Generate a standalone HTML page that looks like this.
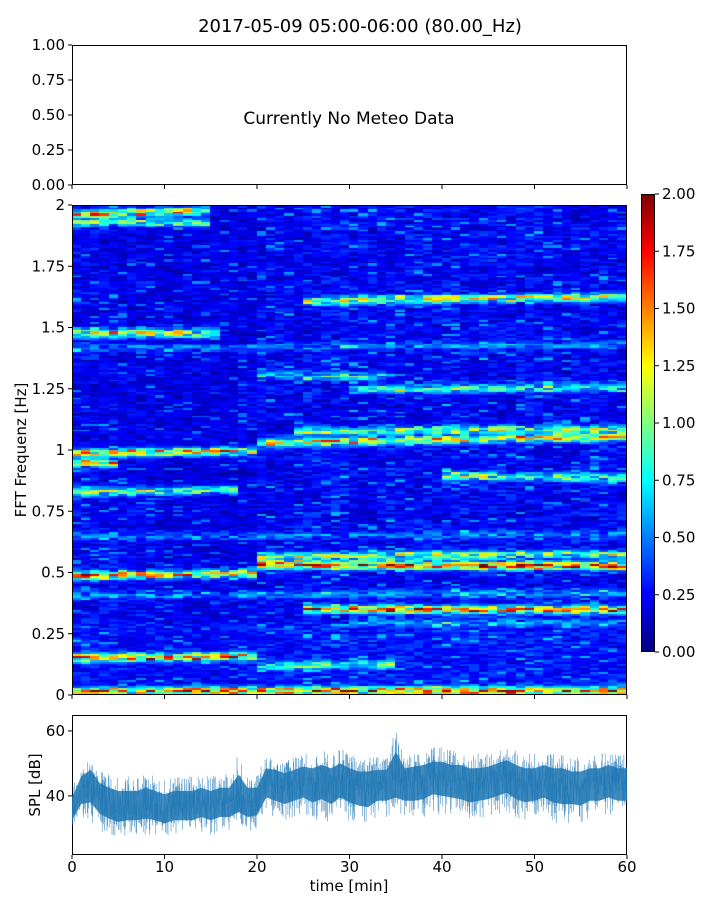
<!DOCTYPE html>
<html><head><meta charset="utf-8"><style>
body{margin:0;background:#fff;width:720px;height:900px;overflow:hidden;font-family:"DejaVu Sans","Liberation Sans",sans-serif;}
#root{position:relative;width:720px;height:900px;}
</style></head><body><div id="root">
<canvas id="spec" width="555" height="490" style="position:absolute;left:72px;top:205px"></canvas>
<canvas id="cbar" width="14" height="458" style="position:absolute;left:641px;top:194px"></canvas>
<svg id="svg" width="720" height="900" style="position:absolute;left:0;top:0" font-family="DejaVu Sans, Liberation Sans, sans-serif"></svg>
</div>
<script>
// ---- data ----
const xTicks=[0,10,20,30,40,50,60];
const meteoTicks=[0,0.25,0.5,0.75,1.0];
const freqTicks=[0,0.25,0.5,0.75,1,1.25,1.5,1.75,2];
const freqTickLabels=["0","0.25","0.5","0.75","1","1.25","1.5","1.75","2"];
const cbTicks=[0,0.25,0.5,0.75,1,1.25,1.5,1.75,2];
const splTicks=[40,60];
// background level per 5-minute block (colour value)
const bgLevel=[0.3,0.28,0.26,0.26,0.3,0.33,0.31,0.31,0.33,0.32,0.31,0.31,0.31];
// spectral lines: freq start, freq end, t start, t end, amplitude
const lineF0=[0.99,0.95,1.03,1.08,0.49,0.535,0.57,0.355,0.155,0.02,0.83,0.9,1.48,1.61,1.96,1.93,1.25,1.31,0.41,0.65,1.42,0.12,0.3];
const lineF1=[1.0,0.95,1.06,1.09,0.5,0.53,0.58,0.35,0.16,0.02,0.84,0.89,1.48,1.63,1.98,1.93,1.26,1.3,0.42,0.66,1.43,0.13,0.3];
const lineT0=[0,0,20,24,0,20,20,25,0,0,0,40,0,25,0,0,30,20,0,0,0,20,30];
const lineT1=[20,5,60,60,20,60,60,60,20,60,18,60,16,60,15,15,60,35,60,60,60,35,60];
const lineA=[1.3,1.2,1.2,0.9,1.3,1.6,0.9,1.4,1.5,1.4,0.8,0.9,1.0,1.0,1.2,0.8,0.7,0.6,0.35,0.3,0.3,0.7,0.35];
// SPL envelope per minute
const splMean=[35,42,44,40,38,37,37,37,38,37,36,37,37,37,38,37,38,38,40,38,38,45,44,43,44,45,44,45,44,45,44,43,43,44,44,45,44,45,45,46,46,45,45,44,44,45,46,47,45,44,44,45,44,44,43,43,44,44,45,44,44];
const splHi=[44,50,52,48,47,46,46,46,47,46,45,46,46,46,47,46,47,47,53,47,47,52,52,51,52,53,53,54,53,55,53,52,52,52,52,62,53,53,54,55,55,54,54,53,53,53,54,55,54,53,53,54,53,53,52,52,53,53,54,53,53];
const splLo=[30,33,32,29,28,27,28,28,28,28,27,28,28,28,29,28,29,29,30,29,30,34,33,32,33,34,32,33,31,34,32,31,30,33,33,34,33,32,33,35,34,34,33,32,33,33,34,35,33,32,33,34,32,31,32,31,33,33,34,33,33];

// ---- helpers ----
function jet(v){v=Math.max(0,Math.min(1,v));
 const r=Math.max(0,Math.min(1,1.5-Math.abs(4*v-3))),g=Math.max(0,Math.min(1,1.5-Math.abs(4*v-2))),b=Math.max(0,Math.min(1,1.5-Math.abs(4*v-1)));
 return `rgb(${Math.round(r*255)},${Math.round(g*255)},${Math.round(b*255)})`;}
function hash(i,j){let h=(i*374761393+j*668265263)|0;h=(h^(h>>>13))*1274126177|0;return ((h^(h>>>16))>>>0)/4294967296;}
const X0=72,X1=627;
const xs=t=>X0+(X1-X0)*t/60;
const fy=f=>695-490*f/2;
const svg=document.getElementById('svg');
const NS='http://www.w3.org/2000/svg';
function el(tag,attrs,parent){const e=document.createElementNS(NS,tag);for(const k in attrs)e.setAttribute(k,attrs[k]);(parent||svg).appendChild(e);return e;}
function txt(x,y,s,size,anchor,name){const t=el('text',{x:x,y:y,'font-size':size,'text-anchor':anchor||'middle',fill:'#000'});t.textContent=s;


return t;}

// ---- spectrogram ----
const cv=document.getElementById('spec'),cx=cv.getContext('2d');
const nT=60,nF=245;
for(let i=0;i<nT;i++){const t=i+0.5;const bi=Math.min(12,Math.floor(t/5));const bg=bgLevel[bi];
 for(let j=0;j<nF;j++){const f=(j+0.5)*2/nF;
  const patch=hash(Math.floor(i/3),Math.floor(j/6)+500);
  const hv=hash(i,j);
  let v=bg*(0.25+0.8*hv+0.5*patch*hash(j+3,i+7)+(hv>0.95?0.6:0))+(f<0.3?0.05:0);
  for(let k=0;k<lineF0.length;k++){if(t<lineT0[k]||t>lineT1[k])continue;
   const fc=lineF0[k]+(lineF1[k]-lineF0[k])*(t-lineT0[k])/Math.max(1,lineT1[k]-lineT0[k]);
   const d=Math.abs(f-fc)/0.016; if(d<2.5){v+=lineA[k]*Math.exp(-d*d)*(0.3+1.0*hash(i+3,j+11));}}
  cx.fillStyle=jet(v/2);cx.fillRect(Math.floor(xs(i)-X0),Math.floor(fy(f+1/nF)-205),Math.ceil(555/nT)+1,3);}}
// colorbar
const cb=document.getElementById('cbar').getContext('2d');
for(let y=0;y<458;y++){cb.fillStyle=jet(1-y/457);cb.fillRect(0,y,14,1);}

// ---- axes frames ----
const g=el('g',{});

const frames=[[72,45,555,140,'meteo-axes'],[72,205,555,490,'spectrogram-axes'],[72,715,555,140,'spl-axes'],[641,194,14,458,'colorbar-frame']];
frames.forEach(f=>{const r=el('rect',{x:f[0]+.5,y:f[1]+.5,width:f[2]-1,height:f[3]-1,fill:'none',stroke:'#000','stroke-width':1},g);
 
 });

txt(360,32,'2017-05-09 05:00-06:00 (80.00_Hz)',18,'middle','chart-title');
txt(349,124,'Currently No Meteo Data',17,'middle','no-data-message');
meteoTicks.forEach(v=>{const y=185-140*v;el('line',{x1:68,x2:72,y1:y,y2:y,stroke:'#000'});
 txt(65,y+5,v.toFixed(2),15,'end','meteo-y-tick-label');});
xTicks.forEach(v=>{const x=xs(v);[185,695,855].forEach(yb=>el('line',{x1:x,x2:x,y1:yb,y2:yb+4,stroke:'#000'}));
 txt(x,872,String(v),15,'middle','x-tick-label');});
freqTicks.forEach((v,i)=>{const y=fy(v);el('line',{x1:68,x2:72,y1:y,y2:y,stroke:'#000'});
 txt(65,y+5,freqTickLabels[i],15,'end','freq-tick-label');});
const yl=txt(26,450,'FFT Frequenz [Hz]',15,'middle','y-axis-title');yl.setAttribute('transform','rotate(-90 26 450)');
cbTicks.forEach(v=>{const y=652-458*v/2;el('line',{x1:655,x2:659,y1:y,y2:y,stroke:'#000'});
 txt(662,y+5,v.toFixed(2),15,'start','colorbar-tick-label');});

// ---- SPL ----
const sy=d=>855-140*(d-21.8)/(64.9-21.8);
splTicks.forEach(v=>{const y=sy(v);el('line',{x1:68,x2:72,y1:y,y2:y,stroke:'#000'});
 txt(65,y+5,String(v),15,'end','spl-tick-label');});
const sl=txt(40,785,'SPL [dB]',15,'middle','spl-axis-title');sl.setAttribute('transform','rotate(-90 40 785)');
txt(349,891,'time [min]',15,'middle','x-axis-title');
// dense trace within envelope
let tr='';const N=3000;
for(let n=0;n<=N;n++){const t=60*n/N;const i=Math.min(59,Math.floor(t));const a=t-i;
 const mu=splMean[i]*(1-a)+splMean[i+1]*a,hi=splHi[i]*(1-a)+splHi[i+1]*a,lo=splLo[i]*(1-a)+splLo[i+1]*a;
 const h=hash(n,77),d=(h-0.5)*2;const val=d>0?mu+(hi-mu)*Math.pow(d,1.8):mu-(mu-lo)*Math.pow(-d,1.8);
 tr+=(n?'L':'M')+xs(t).toFixed(1)+','+sy(val).toFixed(1);}
const tp=el('path',{d:tr,fill:'none',stroke:'#1f77b4','stroke-width':0.4,'stroke-opacity':0.75});


let inner='';
for(let i=0;i<splMean.length;i++)inner+=(i?'L':'M')+xs(i)+','+sy(splMean[i]+(splHi[i]-splMean[i])*0.5);
for(let i=splMean.length-1;i>=0;i--)inner+='L'+xs(i)+','+sy(splMean[i]-(splMean[i]-splLo[i])*0.5);
const c=el('path',{d:inner+'Z',fill:'#1f77b4','fill-opacity':0.85});


</script></body></html>
